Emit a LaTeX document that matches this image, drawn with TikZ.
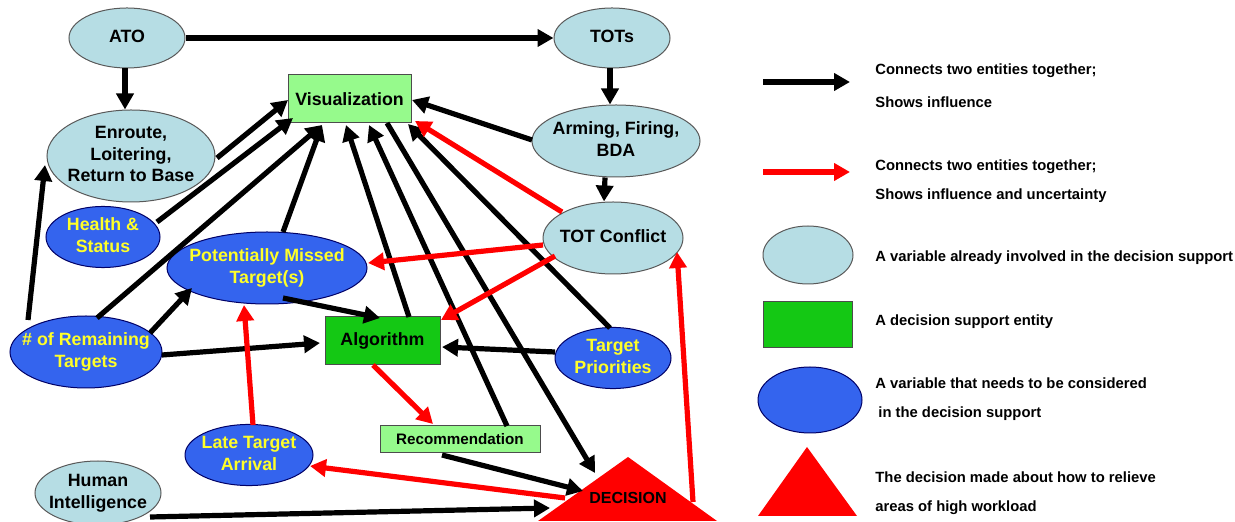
\documentclass[tikz,border=0pt]{standalone}
\usepackage{fontspec}
\setmainfont{Liberation Sans}
\usetikzlibrary{shapes.geometric,arrows.meta}
\definecolor{lblue}{RGB}{182,221,228}
\definecolor{dblue}{RGB}{52,100,238}
\definecolor{tyellow}{RGB}{255,255,40}
\definecolor{lgreen}{RGB}{150,250,140}
\definecolor{dgreen}{RGB}{20,200,20}
\definecolor{rred}{RGB}{255,0,0}
\newcommand\ztext[1]{\makebox[0pt]{\begin{tabular}{@{}c@{}}#1\end{tabular}}}
\begin{document}
\begin{tikzpicture}[x=0.5pt,y=-0.5pt,
  mainfont/.style={font=\bfseries\fontsize{8.9}{10.8}\selectfont},
  var/.style={ellipse, draw=gray!70!black, line width=0.5pt, fill=lblue, inner sep=0pt, mainfont},
  newvar/.style={ellipse, draw=blue!40!black, line width=0.5pt, fill=dblue, text=tyellow, inner sep=0pt, mainfont},
  dsbox/.style={rectangle, draw=gray!60!black, line width=0.5pt, inner sep=0pt, mainfont},
  blk/.style={line width=2.6pt, draw=black, -{Triangle[length=8pt,width=8.5pt]}},
  redarr/.style={line width=2.6pt, draw=rred, -{Triangle[length=8pt,width=8.5pt]}},
  legtext/.style={anchor=west, inner sep=0pt, font=\bfseries\fontsize{7.4}{9}\selectfont}
]
\path[use as bounding box] (0,0) rectangle (1235,522);

% ---- nodes ----
\node[var, minimum width=58pt, minimum height=30pt] (ato) at (127,38) {\ztext{ATO}};
\node[var, minimum width=58pt, minimum height=30pt] (tots) at (612,38) {\ztext{TOTs}};
\node[dsbox, fill=lgreen, minimum width=61.5pt, minimum height=24pt] (vis) at (349.5,99) {Visualization};
\node[var, minimum width=84pt, minimum height=46pt] (enr) at (131,156) {\ztext{Enroute,\\Loitering,\\Return to Base}};
\node[var, minimum width=84pt, minimum height=36pt] (arm) at (616,141) {\ztext{Arming, Firing,\\BDA}};
\node[var, minimum width=70pt, minimum height=36pt] (totc) at (613,238) {\ztext{TOT Conflict}};
\node[newvar, minimum width=57pt, minimum height=29pt] (hs) at (103,237) {\ztext{Health \&\\Status}};
\node[newvar, minimum width=100pt, minimum height=36pt] (pmt) at (267,268) {\ztext{Potentially Missed\\Target(s)}};
\node[newvar, minimum width=76pt, minimum height=36pt] (rem) at (86,352) {\ztext{\# of Remaining\\Targets}};
\node[dsbox, fill=dgreen, minimum width=57.5pt, minimum height=24pt] (alg) at (382.5,341) {Algorithm};
\node[newvar, minimum width=58pt, minimum height=30pt] (tp) at (613,358) {\ztext{Target\\Priorities}};
\node[dsbox, fill=lgreen, minimum width=80pt, minimum height=13.5pt, font=\bfseries\fontsize{7.6}{9}\selectfont] (rec) at (460,439.5) {Recommendation};
\node[newvar, minimum width=64pt, minimum height=30pt] (lta) at (249,455) {\ztext{Late Target\\Arrival}};
\node[var, minimum width=63pt, minimum height=32pt] (hi) at (98,493) {\ztext{Human\\Intelligence}};
\fill[rred] (538,521) -- (628,457) -- (717,521) -- cycle;
\node[inner sep=0pt, font=\bfseries\fontsize{8}{9.6}\selectfont] (dec) at (628,498) {DECISION};

% ---- black connectors ----
\draw[blk] (ato.east) -- (tots.west);
\draw[blk] ([shift={(-2,0)}]ato.south) -- ([shift={(-6,0)}]enr.north);
\draw[blk] ([shift={(-2,0)}]tots.south) -- ([shift={(-6,0)}]arm.north);
\draw[blk] ([shift={(-11,0)}]arm.south) -- ([shift={(-9,0)}]totc.north);
\draw[blk] ([shift={(86,2)}]enr.center) -- ([shift={(-61.5,1)}]vis.center);
\draw[blk] ([shift={(54,-15)}]hs.center) -- ([shift={(-56.5,19)}]vis.center);
\draw[blk] ([shift={(11,-34)}]rem.center) -- ([shift={(-27.5,26)}]vis.center);
\draw[blk] ([shift={(16,-36)}]pmt.center) -- ([shift={(-27.5,26)}]vis.center);
\draw[blk] ([shift={(26.5,-24)}]alg.center) -- ([shift={(-3.5,26)}]vis.center);
\draw[blk] ([shift={(47,-13.5)}]rec.center) -- ([shift={(19.5,26)}]vis.center);
\draw[blk] ([shift={(37.5,24)}]vis.center) -- ([shift={(-33,-25)}]dec.center);
\draw[blk] ([shift={(-3,-30)}]tp.center) -- ([shift={(58.5,25)}]vis.center);
\draw[blk] ([shift={(-84,-1)}]arm.center) -- ([shift={(62.5,1)}]vis.center);
\draw[blk] ([shift={(-58,-6)}]tp.center) -- ([shift={(59.5,6)}]alg.center);
\draw[blk] ([shift={(64,-19)}]rem.center) -- ([shift={(-75,20)}]pmt.center);
\draw[blk] ([shift={(76,3)}]rem.center) -- ([shift={(-62.5,2)}]alg.center);
\draw[blk] ([shift={(16,30)}]pmt.center) -- ([shift={(-2.5,-23)}]alg.center);
\draw[blk] ([shift={(-58,-32)}]rem.center) -- ([shift={(-86,9)}]enr.center);
\draw[blk] ([shift={(-18,15.5)}]rec.center) -- ([shift={(-45,-7)}]dec.center);
\draw[blk] ([shift={(52,24)}]hi.center) -- ([shift={(-78,10)}]dec.center);

% ---- red connectors ----
\draw[redarr] ([shift={(-51,-26)}]totc.center) -- ([shift={(65.5,22)}]vis.center);
\draw[redarr] ([shift={(-70,7)}]totc.center) -- ([shift={(101,-5)}]pmt.center);
\draw[redarr] ([shift={(-58,18)}]totc.center) -- ([shift={(58.5,-21)}]alg.center);
\draw[redarr] ([shift={(-9.5,24)}]alg.center) -- ([shift={(-27,-15.5)}]rec.center);
\draw[redarr] ([shift={(4,-30)}]lta.center) -- ([shift={(-23,37)}]pmt.center);
\draw[redarr] ([shift={(-63,0)}]dec.center) -- ([shift={(61,11)}]lta.center);
\draw[redarr] ([shift={(65,4)}]dec.center) -- ([shift={(64,14)}]totc.center);

% ---- legend ----
\coordinate (lb1) at (763,82); \coordinate (lb2) at (850,82);
\coordinate (lr1) at (763,172); \coordinate (lr2) at (850,172);
\draw[blk] (lb1) -- (lb2);
\draw[redarr] (lr1) -- (lr2);
\node[legtext] (t1) at (875,71) {Connects two entities together;};
\node[legtext] (t2) at (875,102) {Shows influence};
\node[legtext] (t3) at (875,167) {Connects two entities together;};
\node[legtext] (t4) at (875,196) {Shows influence and uncertainty};
\draw[fill=lblue, draw=gray!70!black, line width=0.5pt] (808,255) ellipse [x radius=45, y radius=29];
\node[legtext] (t5) at (875,258) {A variable already involved in the decision support};
\draw[fill=dgreen, draw=gray!60!black, line width=0.5pt] (763,302) rectangle (852,348);
\node[legtext] (t6) at (875,322) {A decision support entity};
\draw[fill=dblue, draw=blue!40!black, line width=0.5pt] (810,400) ellipse [x radius=52, y radius=33];
\node[legtext] (t7) at (875,383) {A variable that needs to be considered};
\node[legtext] (t8) at (878,414) {in the decision support};
\fill[rred] (758,516) -- (807,447) -- (857,516) -- cycle;
\node[legtext] (t9) at (875,477) {The decision made about how to relieve};
\node[legtext] (t10) at (875,508) {areas of high workload};
\end{tikzpicture}
\end{document}
